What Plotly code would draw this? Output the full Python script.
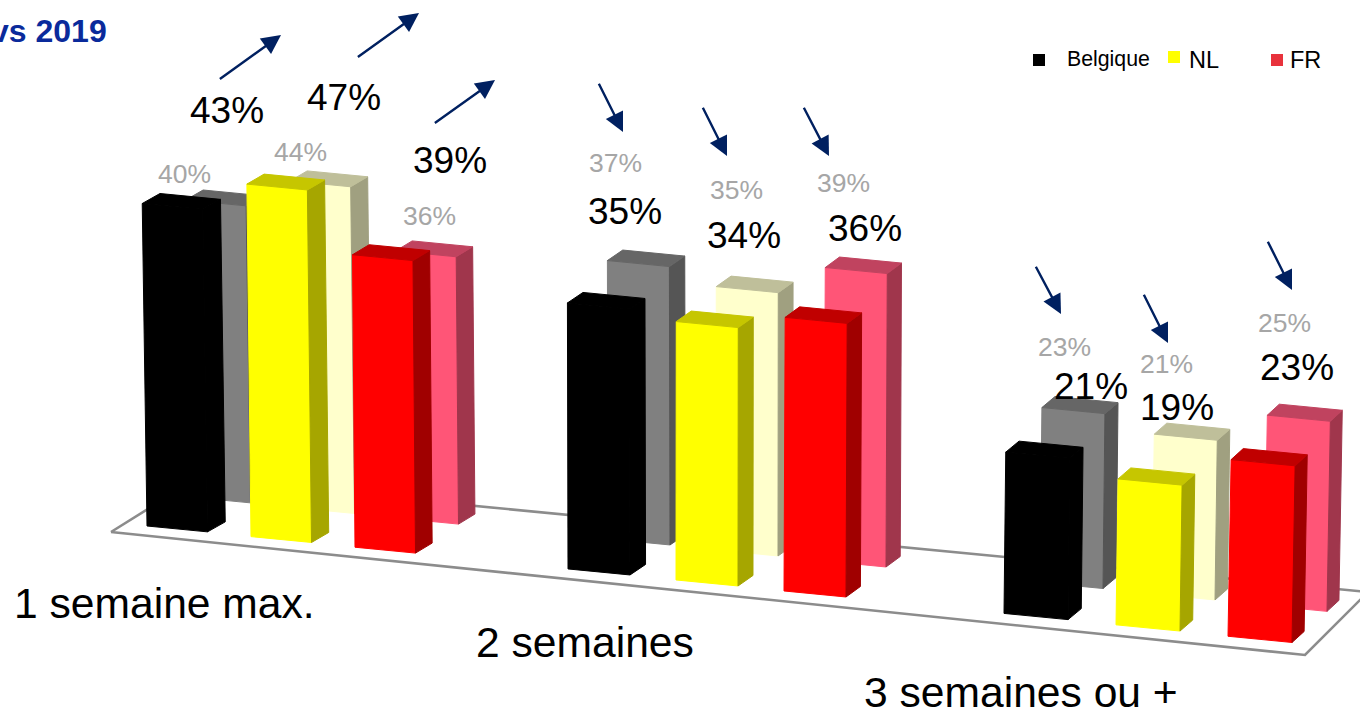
import math
import plotly.graph_objects as go

# ---- data ----
CATEGORIES = ["1 semaine max.", "2 semaines", "3 semaines ou +"]
SERIES = ["Belgique", "NL", "FR"]
VALUES_FRONT = [[43, 35, 21], [47, 34, 19], [39, 36, 23]]
VALUES_REAR = [[40, 37, 23], [44, 35, 21], [36, 39, 25]]
COMPARISON = "vs 2019"

# ---- styles (front, top, side) ----
FRONT_COLORS = [("#000000", "#000000", "#000000"),
                ("#FFFF00", "#C6C600", "#A6A600"),
                ("#FF0000", "#C00000", "#A00000")]
REAR_COLORS = [("#808080", "#666666", "#555555"),
               ("#FFFFCC", "#BFBF9A", "#A0A080"),
               ("#FF5577", "#C0435F", "#A0364C")]
LEGEND_COLORS = ["#000000", "#FFFF00", "#E8323C"]

# ---- geometry of the oblique projection ----
GROUP_X = [147, 568, 1004]
STEP_X = [104, 108, 112]
WIDTH = [60.5, 62, 64]
DEPTH_Y = [-10, -10.5, -11]
REAR_DX = [43, 40, 36]
REAR_DY = [-29, -30, -31]
REAR_W = [60.5, 62, 63]
UNIT = [7.5, 7.6, 7.68]
REAR_UNIT = 0.99

FLOOR_X = [111, 196, 1368, 1305, 111]
FLOOR_Y = [532, 479, 592, 655, 532]

FRONT_LABEL_POS = [[(227, 110), (625, 211), (1091, 386)],
                   [(344, 97), (744, 235), (1177, 407)],
                   [(450, 160), (865, 228), (1297, 367)]]
REAR_LABEL_POS = [[(184, 174), (615, 163), (1064, 347)],
                  [(300, 152), (736, 190), (1166, 364)],
                  [(429, 216), (843, 183), (1284, 323)]]
CATEGORY_POS = [(164, 603), (585, 642), (1021, 692)]
ARROWS = [(220, 79, 281, 35), (358, 57, 419, 13), (435, 123, 495, 80),
          (599, 84, 623, 132), (703, 108, 727, 156), (804, 108, 829, 156),
          (1036, 267, 1061, 314), (1144, 295, 1168, 343), (1268, 242, 1292, 290)]

FONT = "Liberation Sans, Arial, sans-serif"
fig = go.Figure()


def poly(xs, ys, color):
    fig.add_trace(go.Scatter(x=xs + xs[:1], y=ys + ys[:1], mode="lines", fill="toself",
                             fillcolor=color, line=dict(color=color, width=1),
                             hoverinfo="skip", showlegend=False))


def bar(g, s, value, rear, colors):
    x0 = GROUP_X[g] + s * STEP_X[g]
    y0 = 526 + 0.102 * (x0 - 147)
    lean = (x0 - 640) * 3e-5
    h = value * UNIT[g]
    w = WIDTH[g]
    if rear:
        x0 += REAR_DX[g]
        y0 += REAR_DY[g]
        h *= REAR_UNIT
        w = REAR_W[g]
    wy = 0.097 * w
    dx, dy = 18.5 - 0.0052 * x0, DEPTH_Y[g]
    tx = lean * h
    front, top, side = colors
    poly([x0, x0 + w, x0 + w + tx, x0 + tx], [y0, y0 + wy, y0 + wy - h, y0 - h], front)
    poly([x0 + w, x0 + w + dx, x0 + w + dx + tx, x0 + w + tx],
         [y0 + wy, y0 + wy + dy, y0 + wy + dy - h, y0 + wy - h], side)
    poly([x0 + tx, x0 + w + tx, x0 + w + dx + tx, x0 + dx + tx],
         [y0 - h, y0 + wy - h, y0 + wy + dy - h, y0 + dy - h], top)


fig.add_trace(go.Scatter(x=FLOOR_X, y=FLOOR_Y, mode="lines",
                         line=dict(color="#8C8C8C", width=2.6),
                         hoverinfo="skip", showlegend=False))

for g in range(len(CATEGORIES)):
    for s in range(len(SERIES)):
        bar(g, s, VALUES_REAR[s][g], True, REAR_COLORS[s])
    for s in range(len(SERIES)):
        bar(g, s, VALUES_FRONT[s][g], False, FRONT_COLORS[s])

annotations = []


def text(x, y, t, size, color="#000000", anchor="center", bold=False):
    annotations.append(dict(x=x, y=y, xref="x", yref="y", text=f"<b>{t}</b>" if bold else t,
                            showarrow=False, xanchor=anchor, yanchor="middle",
                            font=dict(family=FONT, size=size, color=color)))


for s in range(3):
    for g in range(3):
        px, py = FRONT_LABEL_POS[s][g]
        text(px, py, f"{VALUES_FRONT[s][g]}%", 37)
        px, py = REAR_LABEL_POS[s][g]
        text(px, py, f"{VALUES_REAR[s][g]}%", 26.5, "#A6A6A6")

for c, (px, py) in zip(CATEGORIES, CATEGORY_POS):
    text(px, py, c, 42.6)

text(109, 31, COMPARISON, 32, "#0A2A9B", "right", True)

# legend
fig.add_trace(go.Scatter(x=[1039, 1174, 1277], y=[60, 57, 60], mode="markers",
                         marker=dict(symbol="square", size=12, color=LEGEND_COLORS),
                         hoverinfo="skip", showlegend=False))
text(1065, 59, SERIES[0], 21.3, anchor="left")
text(1187, 60, SERIES[1], 23.5, anchor="left")
text(1288, 60, SERIES[2], 23.5, anchor="left")

for x0, y0, x1, y1 in ARROWS:
    d = math.hypot(x1 - x0, y1 - y0)
    tail_x = x0 - 2 * (x1 - x0) / d
    tail_y = y0 - 2 * (y1 - y0) / d
    annotations.append(dict(x=x1, y=y1, ax=tail_x, ay=tail_y, xref="x", yref="y", axref="x", ayref="y",
                            text="", showarrow=True, arrowhead=2, arrowsize=1.6, arrowwidth=2.4,
                            arrowcolor="#002060", standoff=0, startstandoff=0))

fig.update_layout(width=1360, height=709, margin=dict(l=0, r=0, t=0, b=0),
                  paper_bgcolor="#FFFFFF", plot_bgcolor="#FFFFFF",
                  xaxis=dict(range=[0, 1360], visible=False, fixedrange=True),
                  yaxis=dict(range=[709, 0], visible=False, fixedrange=True),
                  showlegend=False, annotations=annotations)

fig.write_html("out.html", config={"displayModeBar": False},
               post_script="document.body.style.margin='0';document.documentElement.style.overflow='hidden';")
